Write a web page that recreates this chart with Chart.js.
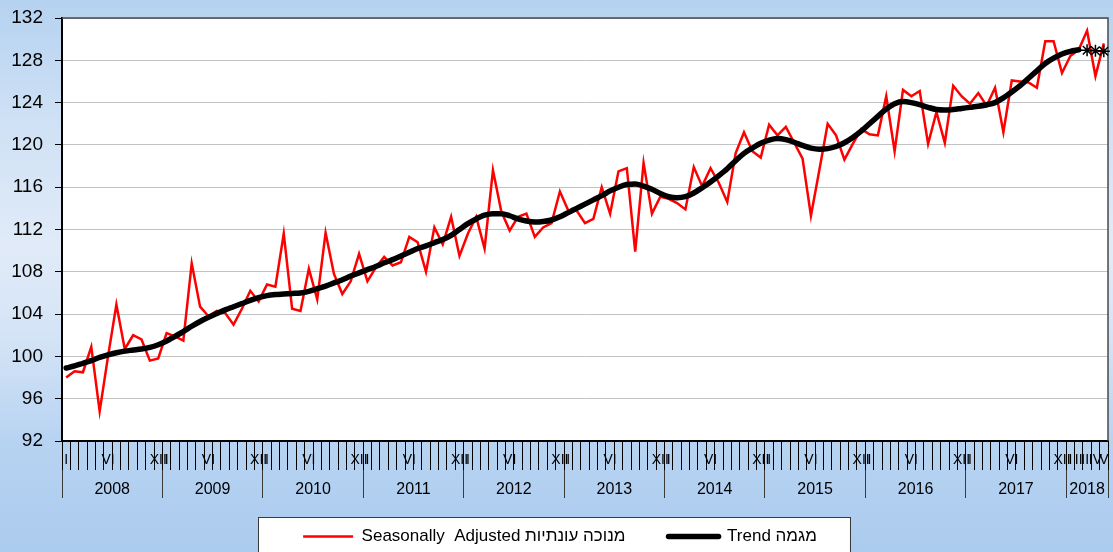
<!DOCTYPE html>
<html>
<head>
<meta charset="utf-8">
<script src="https://cdn.jsdelivr.net/npm/chart.js@4.4.0/dist/chart.umd.min.js"></script>
<style>
html,body{margin:0;padding:0;}
body{width:1113px;height:552px;overflow:hidden;
  background:linear-gradient(to bottom,#b5d2f0 0%,#cfe1f5 22%,#e1ebf8 45%,#d3e3f6 62%,#b7d3f2 80%,#abcbee 100%);}
#wrap{position:relative;width:1113px;height:552px;}
</style>
</head>
<body>
<div id="wrap"><canvas id="c"></canvas></div>
<script>
// ---------------- data ----------------
const years = ['2008','2009','2010','2011','2012','2013','2014','2015','2016','2017','2018'];
const monthsInYear = [12,12,12,12,12,12,12,12,12,12,5];
const fullYearMonthLabels = ['I','','','','','VI','','','','','','XII'];
const lastYearMonthLabels = ['I','II','III','IV','V'];

// Seasonally adjusted (red), Jan 2008 .. May 2018
const seasonallyAdjusted = [
  98.0, 98.6, 98.5, 100.9, 94.8, 100.0, 104.9, 100.7, 102.0, 101.6, 99.6, 99.8,
  102.2, 101.9, 101.5, 108.8, 104.7, 103.8, 104.3, 104.1, 103.0, 104.5, 106.2, 105.2,
  106.8, 106.6, 111.6, 104.5, 104.3, 108.3, 105.4, 111.7, 107.8, 105.9, 107.1, 109.7,
  107.1, 108.4, 109.4, 108.6, 108.9, 111.3, 110.8, 108.0, 112.2, 110.6, 113.2, 109.5,
  111.6, 113.2, 110.2, 117.6, 113.7, 111.9, 113.2, 113.5, 111.3, 112.2, 112.6, 115.6,
  113.8, 113.8, 112.6, 113.0, 116.0, 113.5, 117.5, 117.8, 109.9, 118.3, 113.5, 115.1,
  114.9, 114.5, 113.9, 117.9, 116.1, 117.8, 116.4, 114.6, 119.2, 121.2, 119.4, 118.8,
  121.9, 120.9, 121.7, 120.2, 118.7, 113.3, 117.6, 122.0, 120.9, 118.6, 120.1, 121.5,
  121.0, 120.9, 124.6, 119.4, 125.2, 124.6, 125.1, 120.1, 123.1, 120.2, 125.6, 124.6,
  123.9, 124.9, 123.7, 125.4, 121.2, 126.1, 126.0, 125.9, 125.4, 129.8, 129.8, 126.8,
  128.4, 129.0, 130.8, 126.5, 129.6
];

// Trend (black), Jan 2008 .. Feb 2018
const trend = [
  98.9, 99.1, 99.35, 99.6, 99.9, 100.15, 100.35, 100.5, 100.6, 100.7, 100.85, 101.1,
  101.45, 101.9, 102.35, 102.85, 103.3, 103.7, 104.05, 104.4, 104.7, 105.0, 105.3, 105.55,
  105.75, 105.85, 105.9, 105.95, 106.0, 106.15, 106.4, 106.65, 106.95, 107.25, 107.6, 107.9,
  108.2, 108.5, 108.85, 109.15, 109.5, 109.85, 110.2, 110.45, 110.75, 111.05, 111.45, 112.0,
  112.55, 113.0, 113.35, 113.5, 113.5, 113.3, 113.0, 112.8, 112.7, 112.75, 112.9, 113.2,
  113.6, 114.0, 114.4, 114.8, 115.2, 115.65, 116.0, 116.25, 116.3, 116.1, 115.8, 115.4,
  115.1, 115.0, 115.1, 115.45, 115.95, 116.5, 117.1, 117.75, 118.5, 119.2, 119.7, 120.15,
  120.45, 120.6, 120.5, 120.25, 119.95, 119.7, 119.6, 119.65, 119.85, 120.2, 120.7, 121.3,
  122.0, 122.7, 123.4, 123.9, 124.1, 124.0, 123.8, 123.55, 123.35, 123.3, 123.35, 123.45,
  123.55, 123.65, 123.8, 124.0, 124.45, 125.0, 125.6, 126.3, 127.0, 127.7, 128.2, 128.6,
  128.85, 129.0
];
// Provisional trend estimates (star markers), Mar .. May 2018
const trendProvisional = [128.95, 128.9, 128.85];

const yMin = 92, yMax = 132, yStep = 4;
const saLabel = 'Seasonally  Adjusted מנוכה עונתיות';
const trendLabel = 'Trend מגמה';

// ---------------- derived tables ----------------
const monthLabels = [];
monthsInYear.forEach((n) => {
  const src = n === 12 ? fullYearMonthLabels : lastYearMonthLabels;
  for (let m = 0; m < n; m++) monthLabels.push(src[m] || '');
});
const nMonths = monthLabels.length;
const trendData = monthLabels.map((_, i) => i < trend.length ? trend[i] : null);
const provData = monthLabels.map((_, i) => {
  const k = i - trend.length;
  return k >= 0 && k < trendProvisional.length ? trendProvisional[k] : null;
});

// year axis ticks: boundaries (separator marks) + centres (labels)
const yearTicks = [];
const yearCentreLabel = {};
const boundarySet = new Set();
let start = -0.5;
monthsInYear.forEach((n, i) => {
  yearTicks.push(start); boundarySet.add(start);
  const c = start + n / 2;
  yearTicks.push(c); yearCentreLabel[c] = years[i];
  start += n;
});
yearTicks.push(start); boundarySet.add(start);

const FONT = "'Liberation Sans', Arial, sans-serif";

const framePlugin = {
  id: 'frame',
  beforeDraw(chart) {
    const {ctx, chartArea: a, legend} = chart;
    ctx.save();
    ctx.fillStyle = '#ffffff';
    ctx.fillRect(a.left, a.top, a.right - a.left, a.bottom - a.top);
    const hb = legend && legend.legendHitBoxes;
    let l = 258, r = 850;
    if (hb && hb.length) {
      l = hb[0].left - 45;
      r = hb[hb.length - 1].left + hb[hb.length - 1].width + 33;
    }
    const t = legend ? legend.top - 1 : 517;
    ctx.fillRect(l, t, r - l, 100);
    ctx.strokeStyle = '#3a3a3a';
    ctx.lineWidth = 1;
    ctx.strokeRect(Math.round(l) + 0.5, Math.round(t) + 0.5, Math.round(r - l), 100);
    ctx.restore();
  },
  beforeDatasetsDraw(chart) {
    const {ctx, chartArea: a} = chart;
    ctx.save();
    ctx.strokeStyle = '#4a4a4a';
    ctx.lineWidth = 1.5;
    ctx.beginPath();
    ctx.moveTo(a.left, a.top);
    ctx.lineTo(a.right, a.top);
    ctx.lineTo(a.right, a.bottom);
    ctx.stroke();
    ctx.restore();
  }
};

new Chart(document.getElementById('c'), {
  type: 'line',
  data: {
    labels: monthLabels,
    datasets: [
      { label: trendLabel, data: trendData, borderColor: '#000000', borderWidth: 5.5,
        pointRadius: 0, cubicInterpolationMode: 'monotone', borderCapStyle: 'round', borderJoinStyle: 'round' },
      { label: 'provisional', data: provData, showLine: false, pointStyle: 'star',
        pointRadius: 6, borderColor: '#000000', backgroundColor: '#000000', pointBorderWidth: 1.5 },
      { label: saLabel, data: seasonallyAdjusted, borderColor: '#ff0000', borderWidth: 2.5,
        pointRadius: 0, tension: 0, borderJoinStyle: 'miter' }
    ]
  },
  options: {
    responsive: true,
    maintainAspectRatio: false,
    animation: false,
    events: [],
    layout: { autoPadding: false, padding: { top: 18, right: 5, left: 12, bottom: -3 } },
    scales: {
      x: {
        type: 'category',
        offset: true,
        position: 'bottom',
        weight: 0,
        afterFit: s => { s.height = 29; s.paddingLeft = 0; s.paddingRight = 0; },
        grid: { offset: true, drawOnChartArea: false, drawTicks: true, tickLength: 29,
                tickColor: '#000000', tickWidth: 1 },
        border: { display: true, color: '#000000', width: 2 },
        ticks: { autoSkip: false, maxRotation: 0, minRotation: 0, padding: -18.4,
                 color: '#000000', font: { family: FONT, size: 14 } }
      },
      xYear: {
        type: 'linear',
        position: 'bottom',
        weight: 1,
        min: -0.5,
        max: nMonths - 0.5,
        afterBuildTicks: s => { s.ticks = yearTicks.map(v => ({ value: v })); },
        afterFit: s => { s.height = 48; s.paddingLeft = 0; s.paddingRight = 0; },
        grid: { drawOnChartArea: false, drawTicks: true, tickLength: 28, tickWidth: 1,
                tickColor: c => (c.tick && boundarySet.has(c.tick.value)) ? '#3a3a3a' : 'rgba(0,0,0,0)' },
        border: { display: false },
        ticks: { autoSkip: false, maxRotation: 0, minRotation: 0, padding: -17.6,
                 color: '#000000', font: { family: FONT, size: 16 },
                 callback: v => yearCentreLabel[v] || '' }
      },
      y: {
        min: yMin, max: yMax,
        afterFit: s => { s.width = 50; s.paddingTop = 0; s.paddingBottom = 0; },
        grid: { color: '#c2c2c2', lineWidth: 1, drawTicks: true, tickLength: 7, tickColor: '#000000' },
        border: { display: true, color: '#000000', width: 2 },
        ticks: { stepSize: yStep, padding: 12, color: '#000000', font: { family: FONT, size: 19 } }
      }
    },
    plugins: {
      tooltip: { enabled: false },
      legend: {
        position: 'bottom',
        labels: {
          usePointStyle: true,
          pointStyleWidth: 50,
          padding: 10,
          color: '#000000',
          font: { family: FONT, size: 17 },
          generateLabels: () => [
            { text: saLabel + '       ', pointStyle: 'line', strokeStyle: '#ff0000', fillStyle: '#ff0000',
              lineWidth: 2.5, lineCap: 'butt', datasetIndex: 2, hidden: false, fontColor: '#000000' },
            { text: trendLabel, pointStyle: 'line', strokeStyle: '#000000', fillStyle: '#000000',
              lineWidth: 5.5, lineCap: 'round', datasetIndex: 0, hidden: false, fontColor: '#000000' }
          ]
        }
      }
    }
  },
  plugins: [framePlugin]
});
</script>
</body>
</html>
